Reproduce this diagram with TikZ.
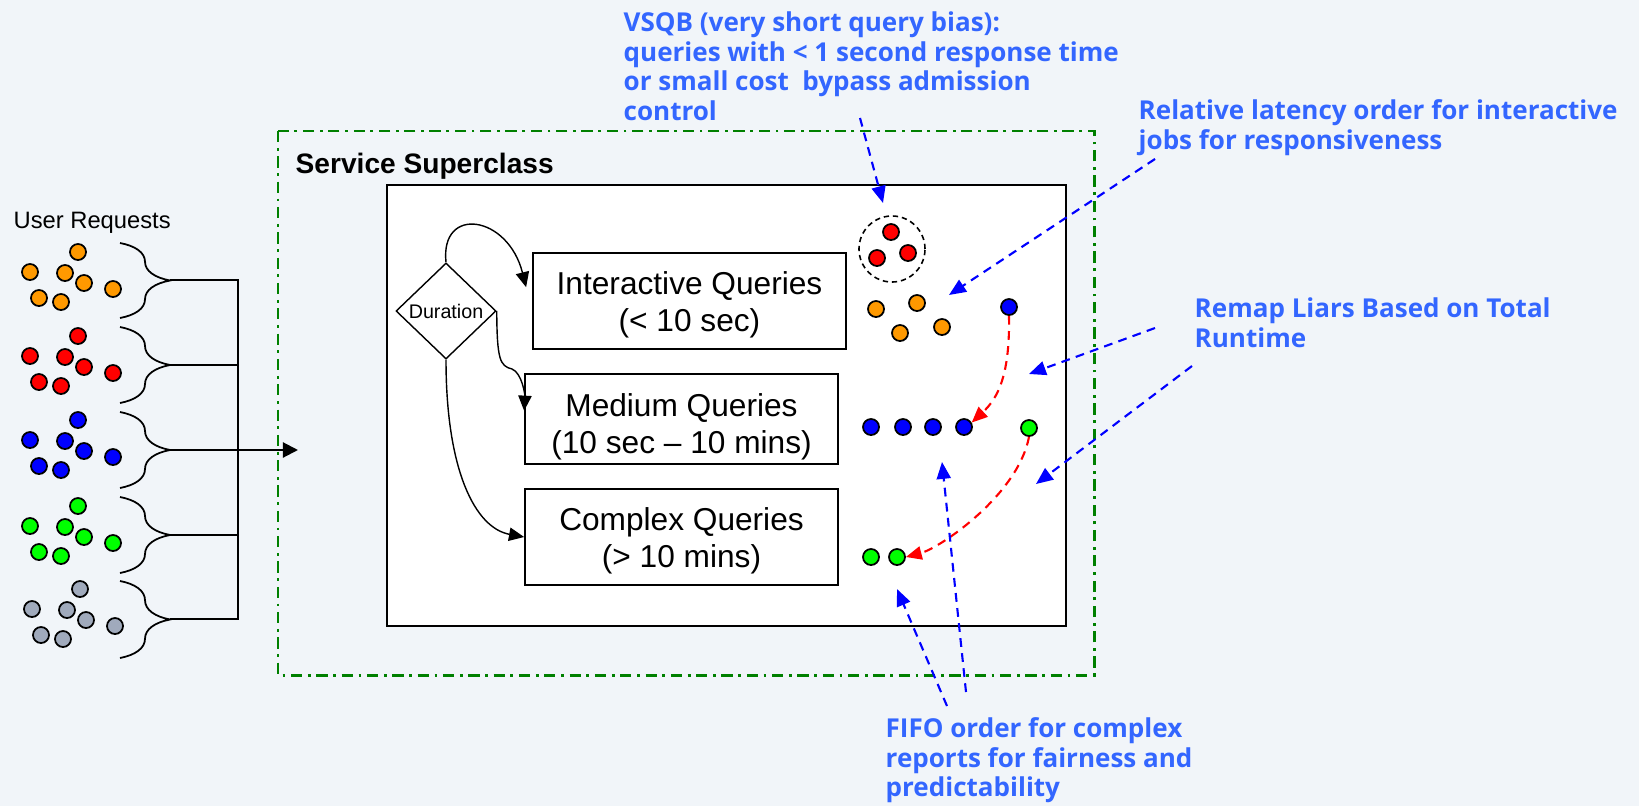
\documentclass[tikz,border=0pt]{standalone}
\usepackage{fontspec}
\setmainfont{Liberation Sans}
\newfontfamily\notefont{Open Sans}
\usetikzlibrary{arrows.meta,shapes.geometric,decorations.pathreplacing,positioning}
\definecolor{PageBg}{RGB}{241,245,249}
\definecolor{NoteBlue}{RGB}{51,102,255}
\definecolor{FrameGreen}{RGB}{0,128,0}
\definecolor{ReqOrange}{RGB}{255,153,0}
\definecolor{ReqGrey}{RGB}{160,170,188}
% two lines of a queue box, set a little lower than centred
\newcommand{\QueueText}[3][1.2pt]{\raisebox{-#1}[\height][\depth]{#2}\\\raisebox{-#1}[\height][\depth]{#3}}

\begin{document}
\begin{tikzpicture}[x=0.01cm, y=-0.01cm]
	\tikzset{
		DotStyle/.style = {circle, draw=black, line width=0.5pt, fill=#1,
			minimum size=0.16cm, inner sep=0pt},
		QueueStyle/.style = {rectangle, draw=black, line width=0.45pt, fill=white,
			minimum width=3.13cm, align=center, font=\fontsize{9}{10.5}\selectfont},
		NoteStyle/.style = {anchor=north west, inner sep=0pt, align=left, text=NoteBlue,
			font=\notefont\bfseries\fontsize{7.4}{8.4}\selectfont},
		NoteArrow/.style = {draw=blue, line width=0.6pt, dash pattern=on 2.5pt off 1.8pt,
			-{Triangle[length=4.8pt,width=4pt]}},
		LiarArrow/.style = {draw=red, line width=0.6pt, dash pattern=on 2.5pt off 1.8pt,
			-{Triangle[length=4.5pt,width=3.8pt]}},
		FlowArrow/.style = {draw=black, line width=0.4pt, -{Triangle[length=4.3pt,width=3.8pt]}},
		BraceStyle/.style = {decorate, decoration={brace, amplitude=0.5cm}, line width=0.5pt}
	}
	\fill[PageBg] (0,0) rectangle (1639,806);
	\useasboundingbox (0,0) rectangle (1639,806);

	% service superclass frame
	\draw[FrameGreen, line width=0.85pt, dash pattern=on 3.2pt off 1.6pt on 0.8pt off 1.6pt]
		(278,131) rectangle (1094,675);
	\draw[line width=0.6pt, fill=white] (387,185) rectangle (1066,626);
	\node[anchor=base west, inner sep=0pt, font=\bfseries\fontsize{8}{9.6}\selectfont] (title) at (295,173) {Service Superclass};

	% user requests
	\node[anchor=base west, inner sep=0pt, font=\fontsize{6.75}{8}\selectfont] (users) at (13,228) {User Requests};
	\node[DotStyle=ReqOrange] (o1) at (78,252) {};
	\node[DotStyle=ReqOrange] (o2) at (30,272) {};
	\node[DotStyle=ReqOrange] (o3) at (65,273) {};
	\node[DotStyle=ReqOrange] (o4) at (84,283) {};
	\node[DotStyle=ReqOrange] (o5) at (113,289) {};
	\node[DotStyle=ReqOrange] (o6) at (39,298) {};
	\node[DotStyle=ReqOrange] (o7) at (61,302) {};
	\node[DotStyle=red] (r1) at (78,336) {};
	\node[DotStyle=red] (r2) at (30,356) {};
	\node[DotStyle=red] (r3) at (65,357) {};
	\node[DotStyle=red] (r4) at (84,367) {};
	\node[DotStyle=red] (r5) at (113,373) {};
	\node[DotStyle=red] (r6) at (39,382) {};
	\node[DotStyle=red] (r7) at (61,386) {};
	\node[DotStyle=blue] (b1) at (78,420) {};
	\node[DotStyle=blue] (b2) at (30,440) {};
	\node[DotStyle=blue] (b3) at (65,441) {};
	\node[DotStyle=blue] (b4) at (84,451) {};
	\node[DotStyle=blue] (b5) at (113,457) {};
	\node[DotStyle=blue] (b6) at (39,466) {};
	\node[DotStyle=blue] (b7) at (61,470) {};
	\node[DotStyle=green] (g1) at (78,506) {};
	\node[DotStyle=green] (g2) at (30,526) {};
	\node[DotStyle=green] (g3) at (65,527) {};
	\node[DotStyle=green] (g4) at (84,537) {};
	\node[DotStyle=green] (g5) at (113,543) {};
	\node[DotStyle=green] (g6) at (39,552) {};
	\node[DotStyle=green] (g7) at (61,556) {};
	\node[DotStyle=ReqGrey] (e1) at (80,589) {};
	\node[DotStyle=ReqGrey] (e2) at (32,609) {};
	\node[DotStyle=ReqGrey] (e3) at (67,610) {};
	\node[DotStyle=ReqGrey] (e4) at (86,620) {};
	\node[DotStyle=ReqGrey] (e5) at (115,626) {};
	\node[DotStyle=ReqGrey] (e6) at (41,635) {};
	\node[DotStyle=ReqGrey] (e7) at (63,639) {};

	\draw[BraceStyle] (120,243) -- (120,318);
	\draw[BraceStyle] (120,327) -- (120,403);
	\draw[BraceStyle] (120,412) -- (120,488);
	\draw[BraceStyle] (120,497) -- (120,573);
	\draw[BraceStyle] (120,581) -- (120,658);
	\coordinate (t1) at (170,280);
	\coordinate (t2) at (170,365);
	\coordinate (t3) at (170,450);
	\coordinate (t4) at (170,535);
	\coordinate (t5) at (170,619);
	\coordinate (j1) at (238,280);
	\coordinate (j2) at (238,365);
	\coordinate (j4) at (238,535);
	\coordinate (j5) at (238,619);
	\coordinate (entry) at (298,450);
	\draw[line width=0.45pt] (t1) -- (j1) -- (j5) -- (t5);
	\draw[line width=0.45pt] (t2) -- (j2);
	\draw[line width=0.45pt] (t4) -- (j4);
	\draw[line width=0.6pt, -{Triangle[length=4.3pt,width=4.3pt]}] (t3) -- (entry);

	% classification
	\node[diamond, draw, line width=0.4pt, fill=white, minimum width=1cm, minimum height=0.96cm,
		inner sep=0pt, font=\fontsize{5.6}{6.7}\selectfont] (dur) at (446,311) {Duration};
	\node[QueueStyle, minimum height=0.96cm] (iq) at (689.5,301) {\QueueText{Interactive Queries}{(< 10 sec)}};
	\node[QueueStyle, minimum height=0.84cm] (mq) at (681.5,419) {\QueueText[2.2pt]{Medium Queries}{(10 sec -- 10 mins)}};
	\node[QueueStyle, minimum height=0.96cm] (cq) at (681.5,537) {\QueueText{Complex Queries}{(> 10 mins)}};

	\draw[FlowArrow] (dur.north) .. controls (440,205) and (508,215) .. ([xshift=-0.06cm]iq.175);
	\draw[FlowArrow] (dur.east) .. controls (497,360) and (500,366) .. (512,369)
		.. controls (522,373) and (525,395) .. (mq.177);
	\draw[FlowArrow] (dur.south) .. controls (446,470) and (475,528) .. (cq.west);

	% queued requests
	\node[circle, draw, line width=0.45pt, dash pattern=on 1.5pt off 1.1pt,
		minimum size=0.66cm, inner sep=0pt] (vsqb) at (892,249) {};
	\node[DotStyle=red] (v1) at (891,232) {};
	\node[DotStyle=red] (v2) at (877,258) {};
	\node[DotStyle=red] (v3) at (908,253) {};
	\node[DotStyle=ReqOrange] (i1) at (876,309) {};
	\node[DotStyle=ReqOrange] (i2) at (917,303) {};
	\node[DotStyle=ReqOrange] (i3) at (900,333) {};
	\node[DotStyle=ReqOrange] (i4) at (942,327) {};
	\node[DotStyle=blue] (mx) at (1009,307) {};
	\node[DotStyle=blue] (m1) at (871,427) {};
	\node[DotStyle=blue] (m2) at (903,427) {};
	\node[DotStyle=blue] (m3) at (933,427) {};
	\node[DotStyle=blue] (m4) at (964,427) {};
	\node[DotStyle=green] (cx) at (1029,428) {};
	\node[DotStyle=green] (c1) at (871,557) {};
	\node[DotStyle=green] (c2) at (897,557) {};

	\draw[LiarArrow] (mx.south) .. controls (1010,375) and (998,398) .. (m4.30);
	\draw[LiarArrow] (cx.south) .. controls (1018,495) and (940,548) .. (c2.east);

	% notes
	\node[NoteStyle] (n1) at (623,11) {VSQB (very short query bias):\\queries with < 1 second response time\\or small cost~ bypass admission\\control};
	\node[NoteStyle] (n2) at (1138,99) {Relative latency order for interactive\\jobs for responsiveness};
	\node[NoteStyle] (n3) at (1194,297) {Remap Liars Based on Total\\Runtime};
	\node[NoteStyle] (n4) at (885,717) {FIFO order for complex\\reports for fairness and\\predictability};

	\coordinate (a1) at (860,118);
	\coordinate (z1) at (883,203);
	\coordinate (a2) at (1155,159);
	\coordinate (z2) at (949,295);
	\coordinate (a3) at (1155,328);
	\coordinate (z3) at (1029,374);
	\coordinate (a4) at (1192,366);
	\coordinate (z4) at (1036,484);
	\coordinate (a5) at (947,706);
	\coordinate (z5) at (897,589);
	\coordinate (a6) at (966,692);
	\coordinate (z6) at (942,462);
	\draw[NoteArrow] (a1) -- (z1);
	\draw[NoteArrow] (a2) -- (z2);
	\draw[NoteArrow] (a3) -- (z3);
	\draw[NoteArrow] (a4) -- (z4);
	\draw[NoteArrow] (a5) -- (z5);
	\draw[NoteArrow] (a6) -- (z6);
\end{tikzpicture}
\end{document}
